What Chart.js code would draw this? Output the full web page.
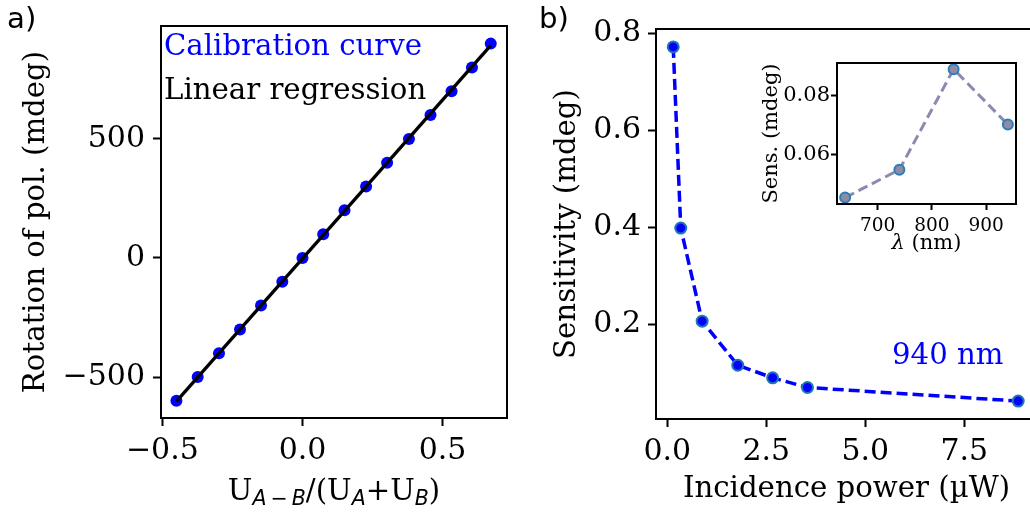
<!DOCTYPE html>
<html>
<head>
<meta charset="utf-8">
<script src="https://cdn.jsdelivr.net/npm/chart.js@4.4.1/dist/chart.umd.min.js"></script>
<style>
  html, body { margin: 0; padding: 0; background: #fff; }
  body { width: 1030px; height: 512px; overflow: hidden; position: relative; }
  canvas { position: absolute; }
  #calib { left: 0; top: 0; }
  #sens { left: 530px; top: 0; }
  #inset { left: 750px; top: 40px; }
</style>
</head>
<body>
<canvas id="calib" width="520" height="512"></canvas>
<canvas id="sens" width="520" height="512"></canvas>
<canvas id="inset" width="280" height="230"></canvas>
<script>
// (a) calibration: normalised difference signal vs applied rotation
const calibX = [-0.450, -0.374, -0.298, -0.223, -0.148, -0.072, 0.000, 0.074,
                0.150, 0.227, 0.302, 0.380, 0.457, 0.532, 0.605, 0.672];
const calibY = [-600, -500, -400, -300, -200, -100, 0, 100,
                200, 300, 400, 500, 600, 700, 800, 900];
// end points of the fitted line
const fitX = [-0.450, 0.672];
const fitY = [-602, 893];
const calibXTicks = [-0.5, 0.0, 0.5];
const calibYTicks = [-500, 0, 500];

// (b) sensitivity vs incident power, 940 nm
const powerUW = [0.15, 0.34, 0.88, 1.78, 2.66, 3.54, 8.86];
const sensMdeg = [0.772, 0.398, 0.206, 0.115, 0.089, 0.069, 0.041];
const powerTicks = [0, 2.5, 5, 7.5];
const sensTicks = [0.2, 0.4, 0.6, 0.8];

// inset: sensitivity vs wavelength
const lambdaNm = [640, 740, 840, 940];
const sensByLambda = [0.0453, 0.0548, 0.0891, 0.0702];
const lambdaTicks = [700, 800, 900];
const sensLambdaTicks = [0.06, 0.08];

const SERIF = '"DejaVu Serif", serif';
const SANS = '"DejaVu Sans", sans-serif';
const FS = 29.2;     // labels / annotations
const FS_TICK = 30;  // main tick labels
const FS_IN = 21;    // inset labels + y ticks
const FS_IN_X = 18.5;

const pts = (xs, ys) => xs.map((x, i) => ({x, y: ys[i]}));
const minus = s => s.replace('-', '\u2212');

function linAxis(o) {
  return {
    type: 'linear',
    min: o.min, max: o.max,
    afterBuildTicks: s => { s.ticks = o.ticks.map(v => ({value: v})); },
    afterFit: s => { if (o.width) s.width = o.width; if (o.height) s.height = o.height; },
    grid: { drawOnChartArea: false, drawTicks: true, tickLength: o.tickLen,
            tickWidth: 2, tickColor: '#000', color: '#000' },
    border: { display: true, color: '#000', width: 2 },
    ticks: { color: '#000', font: {family: SERIF, size: o.size}, padding: o.pad,
             maxRotation: 0, autoSkip: false,
             callback: v => minus(o.fmt(v)) },
    title: o.title ? {
      display: true, text: o.title, color: '#000',
      font: {family: SERIF, size: o.titleSize}, padding: o.titlePad
    } : {display: false}
  };
}

// top + right spines
const frame = {
  id: 'frame',
  afterDatasetsDraw(chart) {
    const {ctx, chartArea: a} = chart;
    ctx.save();
    ctx.strokeStyle = '#000';
    ctx.lineWidth = 2;
    ctx.strokeRect(a.left, a.top, a.right - a.left, a.bottom - a.top);
    ctx.restore();
  }
};

// text made of runs with their own font and baseline shift, centred on cx
function drawRich(ctx, parts, cx, y) {
  let w = 0;
  parts.forEach(p => { ctx.font = p.font; w += ctx.measureText(p.t).width; });
  let x = cx - w / 2;
  ctx.textAlign = 'left';
  ctx.textBaseline = 'alphabetic';
  parts.forEach(p => {
    ctx.font = p.font;
    ctx.fillText(p.t, x, y + (p.dy || 0));
    x += ctx.measureText(p.t).width;
  });
}

const calibText = {
  id: 'calibText',
  afterDraw(chart) {
    const ctx = chart.ctx;
    const a = chart.chartArea;
    ctx.save();
    ctx.textBaseline = 'alphabetic';
    ctx.fillStyle = '#000';
    ctx.font = `${FS}px ${SANS}`;
    ctx.fillText('a)', 7, 28);
    ctx.font = `${FS}px ${SERIF}`;
    ctx.fillStyle = '#0000ff';
    ctx.fillText('Calibration curve', 164, 55);
    ctx.fillStyle = '#000';
    ctx.fillText('Linear regression', 164, 99);
    const rm = `${FS}px ${SERIF}`, sub = `italic 20.5px ${SANS}`;
    drawRich(ctx, [
      {t: 'U', font: rm}, {t: 'A\u2009\u2212\u2009B', font: sub, dy: 5},
      {t: '/(U', font: rm}, {t: 'A', font: sub, dy: 5},
      {t: '+U', font: rm}, {t: 'B', font: sub, dy: 5},
      {t: ')', font: rm}
    ], (a.left + a.right) / 2, 500);
    ctx.restore();
  }
};

new Chart(document.getElementById('calib'), {
  type: 'scatter',
  data: {
    datasets: [
      { label: 'Linear regression', type: 'line', data: pts(fitX, fitY),
        borderColor: '#000', borderWidth: 3.3, pointRadius: 0, order: 0 },
      { label: 'Calibration curve', data: pts(calibX, calibY),
        backgroundColor: '#0000ff', borderColor: '#0000ff', borderWidth: 0,
        pointRadius: 6, order: 1 }
    ]
  },
  options: {
    responsive: false, animation: false, devicePixelRatio: 1,
    layout: { padding: {left: 0, top: 23, right: 13, bottom: 0} },
    plugins: { legend: {display: false}, tooltip: {enabled: false} },
    scales: {
      x: linAxis({min: -0.505, max: 0.730, ticks: calibXTicks, fmt: v => v.toFixed(1),
                  size: FS_TICK, tickLen: 8, pad: 7, height: 94}),
      y: linAxis({min: -672, max: 974, ticks: calibYTicks, fmt: v => String(v),
                  size: FS_TICK, tickLen: 8, pad: 8, width: 161,
                  title: 'Rotation of pol. (mdeg)', titleSize: FS,
                  titlePad: {top: 19, bottom: 0}})
    }
  },
  plugins: [frame, calibText]
});

const sensText = {
  id: 'sensText',
  afterDraw(chart) {
    const ctx = chart.ctx;
    ctx.save();
    ctx.textBaseline = 'alphabetic';
    ctx.fillStyle = '#000';
    ctx.font = `${FS}px ${SANS}`;
    ctx.fillText('b)', 9, 28);
    ctx.font = `${FS}px ${SERIF}`;
    ctx.fillStyle = '#0000ff';
    ctx.fillText('940 nm', 362, 364);
    ctx.restore();
  }
};

new Chart(document.getElementById('sens'), {
  type: 'line',
  data: {
    datasets: [{
      data: pts(powerUW, sensMdeg),
      borderColor: '#0000ff', borderWidth: 3.5, borderDash: [11, 5],
      backgroundColor: '#0000ff', pointBackgroundColor: '#0000ff',
      pointBorderColor: '#1f77b4', pointBorderWidth: 2, pointRadius: 5.5,
      tension: 0
    }]
  },
  options: {
    responsive: false, animation: false, devicePixelRatio: 1,
    layout: { padding: {left: 0, top: 29, right: 13, bottom: 0} },
    plugins: { legend: {display: false}, tooltip: {enabled: false} },
    scales: {
      x: linAxis({min: -0.285, max: 9.335, ticks: powerTicks, fmt: v => v.toFixed(1),
                  size: FS_TICK, tickLen: 8, pad: 7, height: 93,
                  title: 'Incidence power (\u00b5W)', titleSize: FS,
                  titlePad: {top: 0, bottom: 4.6}}),
      y: linAxis({min: 0.004, max: 0.809, ticks: sensTicks, fmt: v => v.toFixed(1),
                  size: FS_TICK, tickLen: 8, pad: 7, width: 126,
                  title: 'Sensitivity (mdeg)', titleSize: FS,
                  titlePad: {top: 19.5, bottom: 0}})
    }
  },
  plugins: [frame, sensText]
});

const insetText = {
  id: 'insetText',
  afterDraw(chart) {
    const ctx = chart.ctx;
    const a = chart.chartArea;
    ctx.save();
    ctx.fillStyle = '#000';
    drawRich(ctx, [
      {t: '\u03bb', font: `italic ${FS_IN}px ${SERIF}`},
      {t: ' (nm)', font: `${FS_IN}px ${SERIF}`}
    ], (a.left + a.right) / 2, 209);
    ctx.restore();
  }
};

new Chart(document.getElementById('inset'), {
  type: 'line',
  data: {
    datasets: [{
      data: pts(lambdaNm, sensByLambda),
      borderColor: '#8a8ab0', borderWidth: 3, borderDash: [10, 5],
      pointBackgroundColor: '#8c8ca6', pointBorderColor: '#2b7cba',
      pointBorderWidth: 2, pointRadius: 5, tension: 0
    }]
  },
  options: {
    responsive: false, animation: false, devicePixelRatio: 1,
    layout: { padding: {left: 0, top: 23, right: 14, bottom: 0} },
    plugins: { legend: {display: false}, tooltip: {enabled: false} },
    scales: {
      x: linAxis({min: 625, max: 955, ticks: lambdaTicks, fmt: v => String(v),
                  size: FS_IN_X, tickLen: 6, pad: 5, height: 66}),
      y: linAxis({min: 0.0431, max: 0.0912, ticks: sensLambdaTicks, fmt: v => v.toFixed(2),
                  size: FS_IN, tickLen: 6, pad: 1, width: 87,
                  title: 'Sens. (mdeg)', titleSize: FS_IN,
                  titlePad: {top: 9.4, bottom: 0}})
    }
  },
  plugins: [frame, insetText]
});
</script>
</body>
</html>
